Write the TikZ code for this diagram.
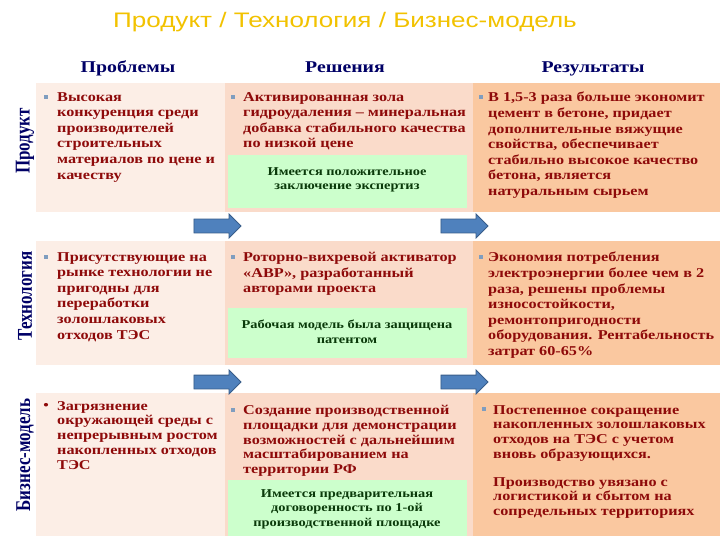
\documentclass[tikz,border=0pt]{standalone}
\usepackage{graphicx}
\usepackage{fontspec}
\setmainfont{Liberation Serif}[FakeStretch=1.2]
\newfontfamily\plainserif{Liberation Serif}
\newfontfamily\titlefont{Liberation Sans}[FakeStretch=1.24]
\usetikzlibrary{shapes.arrows}
\definecolor{titleyellow}{HTML}{F2C200}
\definecolor{navy}{HTML}{000066}
\definecolor{txtred}{HTML}{8E0A0A}
\definecolor{txtgreen}{HTML}{0A3A0A}
\definecolor{probfill}{HTML}{FCEEE6}
\definecolor{solfill}{HTML}{FADBCA}
\definecolor{resfill}{HTML}{FAC8A0}
\definecolor{greenfill}{HTML}{CCFFCC}
\definecolor{arrowfill}{HTML}{4F81BD}
\definecolor{arrowdraw}{HTML}{385D8A}
\definecolor{bulletc}{HTML}{7F9DBF}
\tikzset{
  celltext/.style={font=\fontsize{13.5}{15.6}\selectfont\bfseries,text=txtred,align=left,inner sep=0pt,anchor=north west},
  celltextb/.style={celltext,font=\fontsize{13.5}{14.8}\selectfont\bfseries},
  greentext/.style={font=\fontsize{12}{14.5}\selectfont\bfseries,text=txtgreen,align=center,inner sep=0pt},
  header/.style={font=\fontsize{16.5}{20}\selectfont\bfseries,text=navy,inner sep=0pt,anchor=base},
  rowlabel/.style={font=\plainserif\fontsize{17}{20}\selectfont\bfseries,text=navy,inner sep=0pt},
  sqbullet/.style={fill=bulletc,draw=none,minimum width=4.5pt,minimum height=4pt,inner sep=0pt},
  blockarrow/.style={single arrow,fill=arrowfill,draw=arrowdraw,line width=0.8pt,inner xsep=0pt,inner ysep=6.5pt,single arrow head extend=5pt,minimum height=47pt}
}
\begin{document}
\begin{tikzpicture}[x=1pt,y=-1pt]
\useasboundingbox (0,0) rectangle (720,540);
\fill[white] (0,0) rectangle (720,540);
% title
\node[font=\titlefont\fontsize{21}{24}\selectfont,text=titleyellow,inner sep=0pt,anchor=base] (title) at (345,28) {Продукт / Технология / Бизнес-модель};
% headers
\node[header] (h1) at (128,73) {Проблемы};
\node[header] (h2) at (345,73) {Решения};
\node[header] (h3) at (593,73) {Результаты};
% row labels
\node[rowlabel] (r1) at (25,141) {\rotatebox{90}{\scalebox{1}[1.24]{Продукт}}};
\node[rowlabel] (r2) at (25,296) {\rotatebox{90}{\scalebox{1}[1.24]{Технология}}};
\node[rowlabel] (r3) at (25,455) {\rotatebox{90}{\scalebox{1}[1.24]{Бизнес-модель}}};
% cells row 1
\fill[probfill] (36,83) rectangle (225,212);
\fill[solfill] (225,83) rectangle (473,212);
\fill[resfill] (473,83) rectangle (720,212);
\fill[greenfill] (228,155) rectangle (467,208);
% cells row 2
\fill[probfill] (36,241) rectangle (225,365);
\fill[solfill] (225,241) rectangle (473,365);
\fill[resfill] (473,241) rectangle (720,365);
\fill[greenfill] (228,308) rectangle (467,358);
% cells row 3
\fill[probfill] (36,393) rectangle (225,536);
\fill[solfill] (225,393) rectangle (473,536);
\fill[resfill] (473,393) rectangle (720,536);
\fill[greenfill] (228,480) rectangle (467,536);
% arrows
\node[blockarrow] (a1) at (214,226) {};
\node[blockarrow] (a2) at (461,226) {};
\node[blockarrow] (a3) at (214,382) {};
\node[blockarrow] (a4) at (461,382) {};
% bullets
\node[sqbullet] (b11) at (46,97) {};
\node[sqbullet] (b12) at (233,97) {};
\node[sqbullet] (b13) at (481,97) {};
\node[sqbullet] (b21) at (46,257) {};
\node[sqbullet] (b22) at (233,257) {};
\node[sqbullet] (b23) at (481,257) {};
\node[text=txtred,font=\fontsize{13}{15}\selectfont\bfseries,inner sep=0pt] (b31) at (46,406) {•};
\node[sqbullet] (b32) at (233,410) {};
\node[sqbullet] (b33) at (484,409) {};
% row 1 texts
\node[celltext] (p1) at (57,92) {Высокая\\конкуренция среди\\производителей\\строительных\\материалов по цене и\\качеству};
\node[celltext] (s1) at (243,92) {Активированная зола\\гидроудаления – минеральная\\добавка стабильного качества\\по низкой цене};
\node[greentext] (g1) at (347,180) {Имеется положительное\\заключение экспертиз};
\node[celltext] (e1) at (488,92) {В 1,5-3 раза больше экономит\\цемент в бетоне, придает\\дополнительные вяжущие\\свойства, обеспечивает\\стабильно высокое качество\\бетона, является\\натуральным сырьем};
% row 2 texts
\node[celltext] (p2) at (57,252) {Присутствующие на\\рынке технологии не\\пригодны для\\переработки\\золошлаковых\\отходов ТЭС};
\node[celltext] (s2) at (243,252) {Роторно-вихревой активатор\\«АВР», разработанный\\авторами проекта};
\node[greentext] (g2) at (347,332) {Рабочая модель была защищена\\патентом};
\node[celltext] (e2) at (488,252) {Экономия потребления\\электроэнергии более чем в 2\\раза, решены проблемы\\износостойкости,\\ремонтопригодности\\оборудования. Рентабельность\\затрат 60-65\%};
% row 3 texts
\node[celltextb] (p3) at (57,401) {Загрязнение\\окружающей среды с\\непрерывным ростом\\накопленных отходов\\ТЭС};
\node[celltextb] (s3) at (243,405) {Создание производственной\\площадки для демонстрации\\возможностей с дальнейшим\\масштабированием на\\территории РФ};
\node[greentext] (g3) at (347,509) {Имеется предварительная\\договоренность по 1-ой\\производственной площадке};
\node[celltextb] (e3) at (493,405) {Постепенное сокращение\\накопленных золошлаковых\\отходов на ТЭС с учетом\\вновь образующихся.};
\node[celltextb] (e3b) at (493,477) {Производство увязано с\\логистикой и сбытом на\\сопредельных территориях};
\end{tikzpicture}
\end{document}
